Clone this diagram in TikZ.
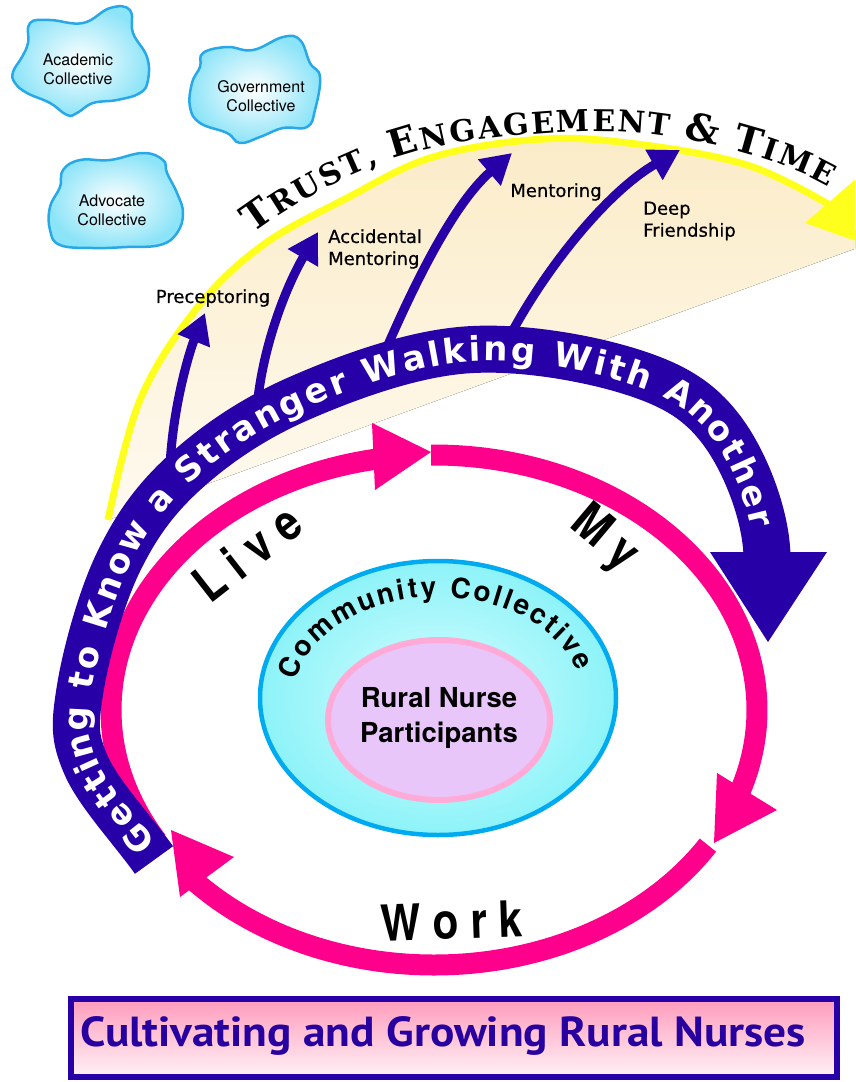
\documentclass[tikz,border=0pt]{standalone}
\usepackage{fontspec}
\usetikzlibrary{decorations.text,arrows.meta,calc}
\newfontfamily\dvs{DejaVu Sans}
\newfontfamily\dvsmed{DejaVu Sans}[FakeBold=0.6]
\newfontfamily\dvserif{DejaVu Serif}
\newfontfamily\heros{TeX Gyre Heros}
\newfontfamily\ptsans{PT Sans}
\definecolor{bandblue}{RGB}{40,0,168}
\definecolor{ringpink}{RGB}{255,0,140}
\definecolor{arcyellow}{RGB}{255,255,30}
\definecolor{beigetop}{RGB}{251,236,200}
\definecolor{beigebot}{RGB}{255,250,240}
\definecolor{cyanborder}{RGB}{0,170,240}
\definecolor{cyanin}{RGB}{215,253,255}
\definecolor{cyanout}{RGB}{140,243,248}
\definecolor{lavender}{RGB}{232,198,250}
\definecolor{softpink}{RGB}{255,170,215}
\definecolor{cloudborder}{RGB}{40,168,232}
\definecolor{cloudfill}{RGB}{140,228,248}
\definecolor{boxtop}{RGB}{255,155,188}
\definecolor{boxbot}{RGB}{255,242,246}
\definecolor{titleblue}{RGB}{40,0,160}
\newcommand\trustbig{\dvserif\bfseries\fontsize{38}{38}\selectfont}
\newcommand\trustsmall{\dvserif\bfseries\fontsize{30}{30}\selectfont}
\newcommand\bandfont{\color{white}\dvs\bfseries\fontsize{34}{34}\selectfont}
\newcommand\commfont{\heros\bfseries\fontsize{28}{28}\selectfont}
\begin{document}
\begin{tikzpicture}[x=1pt,y=-1pt,
  cloud/.style={draw=cloudborder, line width=2.5pt, inner color=white, outer color=cloudfill},
  cloudtext/.style={font=\heros\fontsize{16}{19}\selectfont, align=center, text=black},
  barrow/.style={draw=bandblue, line width=9pt, -{Triangle[width=33pt,length=30pt]}},
  lbl/.style={font=\dvsmed\fontsize{18}{22}\selectfont, align=left, text=black, inner sep=0pt},
  pinkring/.style={draw=ringpink, line width=21pt},
  pinkhead/.style={fill=ringpink},
  bigword/.style={font=\heros\bfseries\fontsize{50}{50}\selectfont, text=black, inner sep=0pt}]
\path[use as bounding box] (0,0) rectangle (855,1082);
\clip (0,0) rectangle (855,1082);

% clouds
\path[cloud] plot[smooth cycle, tension=0.7] coordinates {(30,23) (50,20) (83,23) (110,8) (130,10) (133,33) (147,57) (148,80) (140,93) (117,100) (93,103) (77,113) (67,115) (50,103) (27,93) (15,83) (13,72) (22,57) (28,43)};
\node[cloudtext] (acad) at (78,69) {Academic\\Collective};
\path[cloud] plot[smooth cycle, tension=0.7] coordinates {(203,53) (227,47) (253,50) (283,37) (300,40) (310,63) (320,77) (315,110) (307,127) (283,128) (260,137) (240,143) (227,133) (200,123) (190,107) (192,83) (200,67)};
\node[cloudtext] (gov) at (261,96) {Government\\Collective};
\path[cloud] plot[smooth cycle, tension=0.7] coordinates {(63,170) (80,160) (110,160) (143,153) (163,160) (167,173) (177,193) (183,213) (177,233) (160,245) (127,247) (93,248) (60,245) (50,230) (50,207) (60,187)};
\node[cloudtext] (adv) at (112,210) {Advocate\\Collective};

% beige segment and yellow arc
\fill[top color=beigetop, bottom color=beigebot] plot[smooth, tension=0.6] coordinates {(108,520) (140,400) (197,308) (263,245) (347,198) (430,158) (530,140) (620,142) (747,165) (838,210)} -- (868,244) -- cycle;
\draw[arcyellow, line width=7pt] plot[smooth, tension=0.6] coordinates {(108,520) (140,400) (197,308) (263,245) (347,198) (430,158) (530,140) (620,142) (747,165) (838,210)};
\fill[arcyellow] (857,178) -- (805,223) -- (870,246) -- cycle;
\path[decorate, decoration={text along path, text align={fit to path},
  text={|\trustbig|T|\trustsmall|RUST, |\trustbig|E|\trustsmall|NGAGEMENT |\trustbig|{\&}|\trustsmall| |\trustbig|T|\trustsmall|IME}}]
  (253,234) .. controls (322,184) and (390,152) .. (470,141) .. controls (540,132) and (600,128) .. (650,134) .. controls (700,140) and (775,156) .. (829,187);

% blue arrows and labels
\draw[barrow] (170,466) .. controls (173,405) and (190,350) .. (205,313);
\draw[barrow] (258,398) .. controls (265,340) and (287,285) .. (318,232);
\draw[barrow] (387,347) .. controls (412,290) and (452,205) .. (512,153);
\draw[barrow] (512,332) .. controls (550,262) and (610,190) .. (680,150);
\node[lbl] (prec) at (213,298) {Preceptoring};
\node[lbl, anchor=west] (accm) at (328,249) {Accidental\\Mentoring};
\node[lbl] (ment) at (556,192) {Mentoring};
\node[lbl, anchor=west] (deep) at (643,221) {Deep\\Friendship};

% pink ring
\coordinate (rc) at (434,710);
\draw[pinkring] (rc) ++(-211:323 and 255) arc[start angle=-211, end angle=-98, x radius=323, y radius=255];
\fill[pinkhead] (431,452) -- (372,423) -- (375,490) -- cycle;
\draw[pinkring] (rc) ++(-90.5:323 and 255) arc[start angle=-90.5, end angle=20, x radius=323, y radius=255];
\fill[pinkhead] (717,773) -- (777,810) -- (714,843) -- cycle;
\draw[pinkring] (rc) ++(32:323 and 255) arc[start angle=32, end angle=139, x radius=323, y radius=255];
\fill[pinkhead] (234,857) -- (180,897) -- (171,830) -- cycle;

% community ellipses
\path[draw=cyanborder, line width=4.5pt, inner color=cyanin, outer color=cyanout] (438,698) ellipse[x radius=178, y radius=137];
\path[draw=softpink, line width=6pt, fill=lavender] (439,720) ellipse[x radius=111, y radius=80];
\node[font=\heros\bfseries\fontsize{27.5}{35}\selectfont, align=center] (rural) at (439,718) {Rural Nurse\\Participants};
\path[decorate, decoration={text along path, text align={fit to path}, text={|\commfont|Community Collective}}]
  (438,698) ++(-170:144 and 101) arc[start angle=-170, end angle=-15, x radius=144, y radius=101];

% blue band
\draw[bandblue, line width=47pt] (154,860) .. controls (131.3,828.3) and (98.3,793.3) .. (86,765)
  .. controls (73.7,736.7) and (74.7,723.7) .. (80,690)
  .. controls (85.3,656.3) and (100.5,599.3) .. (118,563)
  .. controls (135.5,526.7) and (154.7,499.5) .. (185,472)
  .. controls (215.3,444.5) and (253.3,418.3) .. (300,398)
  .. controls (346.7,377.7) and (409.7,354.3) .. (465,350)
  .. controls (520.3,345.7) and (589,358.3) .. (632,372)
  .. controls (675,385.7) and (700.5,401.3) .. (723,432)
  .. controls (745.5,462.7) and (766,515) .. (767,556);
\fill[bandblue] (710,552) -- (827,552) -- (768,642) -- cycle;
\path[decorate, decoration={text along path, text align={fit to path, left indent=12pt, right indent=30pt}, raise=-12pt,
  text={|\bandfont|Getting to Know a Stranger Walking With Another}}]
  (154,860) .. controls (131.3,828.3) and (98.3,793.3) .. (86,765)
  .. controls (73.7,736.7) and (74.7,723.7) .. (80,690)
  .. controls (85.3,656.3) and (100.5,599.3) .. (118,563)
  .. controls (135.5,526.7) and (154.7,499.5) .. (185,472)
  .. controls (215.3,444.5) and (253.3,418.3) .. (300,398)
  .. controls (346.7,377.7) and (409.7,354.3) .. (465,350)
  .. controls (520.3,345.7) and (589,358.3) .. (632,372)
  .. controls (675,385.7) and (700.5,401.3) .. (723,432)
  .. controls (745.5,462.7) and (766,515) .. (767,556);

% cycle words
\node[bigword, rotate=38] (live) at (247,553) {\scalebox{0.85}[1]{L\kern14pt i\kern14pt v\kern14pt e}};
\node[bigword, rotate=-40] (my) at (604,540) {\scalebox{0.85}[1]{M\kern14pt y}};
\node[bigword, rotate=2] (work) at (452,921) {\scalebox{0.85}[1]{W\kern14pt o\kern14pt r\kern14pt k}};

% bottom box
\path[draw=bandblue, line width=6pt, top color=boxtop, bottom color=boxbot] (71,999) rectangle (837,1077);
\node[font=\ptsans\bfseries\fontsize{42}{42}\selectfont, text=titleblue] (title) at (443,1036) {\scalebox{1.08}[1]{Cultivating and Growing Rural Nurses}};
\end{tikzpicture}
\end{document}
